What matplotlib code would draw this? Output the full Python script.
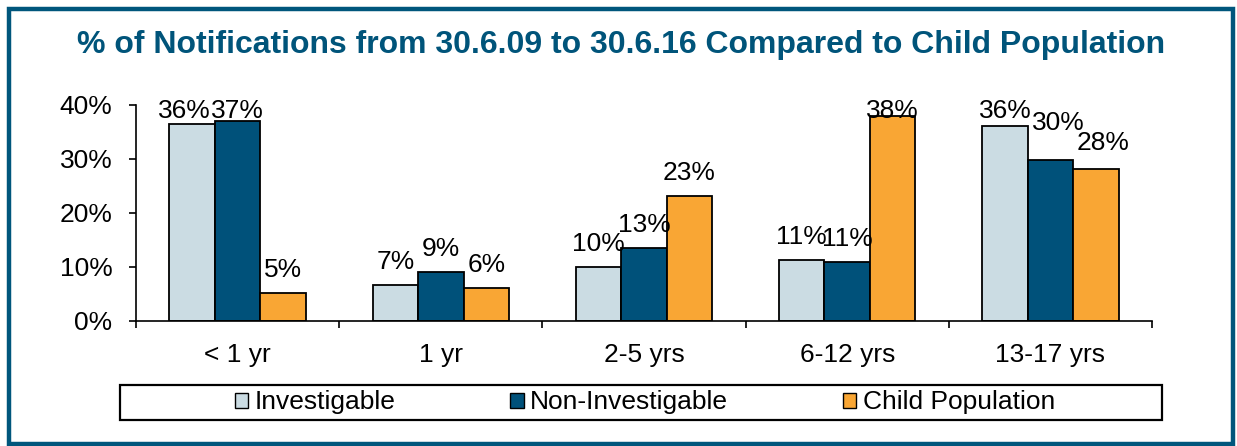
import matplotlib
matplotlib.use("Agg")
import matplotlib.pyplot as plt
from matplotlib.patches import Rectangle, Patch
import numpy as np

plt.rcParams['font.family'] = ['Liberation Sans', 'DejaVu Sans']

categories = ["< 1 yr", "1 yr", "2-5 yrs", "6-12 yrs", "13-17 yrs"]
series_names = ["Investigable", "Non-Investigable", "Child Population"]
investigable = [36.5, 6.7, 10.0, 11.3, 36.1]
non_investigable = [37.0, 9.1, 13.5, 11.0, 29.8]
child_population = [5.1, 6.1, 23.1, 38.0, 28.1]
value_labels = [
    ["36%", "7%", "10%", "11%", "36%"],
    ["37%", "9%", "13%", "11%", "30%"],
    ["5%", "6%", "23%", "38%", "28%"],
]
yticks = [0, 10, 20, 30, 40]
ytick_labels = ["0%", "10%", "20%", "30%", "40%"]

colors = ["#CBDCE3", "#00517A", "#F9A634"]
title_color = "#00547A"
frame_color = "#00567C"
FS = 19

W, H = 1237, 446
fig = plt.figure(figsize=(W / 100, H / 100), dpi=100)

# axes placement (pixel-derived)
ax_left, ax_right, ax_bottom, ax_top = 136, 1152, 321, 105
ax = fig.add_axes([ax_left / W, 1 - ax_bottom / H, (ax_right - ax_left) / W,
                   (ax_bottom - ax_top) / H])

series = [investigable, non_investigable, child_population]
x = np.arange(len(categories))
bw = 0.224
offsets = [-bw, 0, bw]
# label nudges (in data units) for crowded labels
y_nudge = {(1, 4): 2.6, (2, 4): 0.6}
x_nudge = {(0, 0): -0.04, (1, 4): 0.04, (2, 4): 0.035}
for i, (vals, name, col) in enumerate(zip(series, series_names, colors)):
    ax.bar(x + offsets[i], vals, width=bw, color=col, edgecolor="black",
           linewidth=1.3, label=name, zorder=2)
    for j, v in enumerate(vals):
        ty = min(v + 4.26, 38.9) + y_nudge.get((i, j), 0)
        tx = x[j] + offsets[i] + x_nudge.get((i, j), 0)
        ax.text(tx, ty, value_labels[i][j], ha="center", va="center",
                fontsize=FS, color="black", zorder=3)

ax.set_xlim(-0.5, len(categories) - 0.5)
ax.set_ylim(0, 40)
ax.set_yticks(yticks)
ax.set_yticklabels(ytick_labels, fontsize=FS)
ax.set_xticks(x)
ax.set_xticklabels(categories, fontsize=FS)
ax.set_xticks(np.arange(-0.5, len(categories), 1.0), minor=True)
ax.tick_params(axis="x", which="major", length=0, pad=16)
ax.tick_params(axis="x", which="minor", length=5, width=1.2, direction="out")
ax.tick_params(axis="y", which="major", length=5, width=1.2, direction="out", pad=12)
for s in ["top", "right"]:
    ax.spines[s].set_visible(False)
for s in ["left", "bottom"]:
    ax.spines[s].set_linewidth(1.2)
    ax.spines[s].set_color("black")

# title
fig.text(621 / W, 1 - 45 / H, "% of Notifications from 30.6.09 to 30.6.16 Compared to Child Population",
         ha="center", va="center", fontsize=23, fontweight="bold", color=title_color)

# legend box
lx0, lx1, ly0, ly1 = 120, 1162, 385, 420
fig.patches.append(Rectangle((lx0 / W, 1 - ly1 / H), (lx1 - lx0) / W, (ly1 - ly0) / H,
                             transform=fig.transFigure, fill=False, edgecolor="black",
                             linewidth=1.6))
handles = [Patch(facecolor=c, edgecolor="black", linewidth=1.0) for c in colors]
leg = fig.legend(handles, series_names, loc="center",
                 bbox_to_anchor=(645 / W, 1 - 402.5 / H), ncol=3, frameon=False,
                 fontsize=FS, handlelength=0.5, handleheight=0.5,
                 handletextpad=0.25, columnspacing=4.35, borderaxespad=0, borderpad=0)

# outer frame
fig.patches.append(Rectangle((9 / W, 2 / H), (1233 - 9) / W, (437 - 2) / H,
                             transform=fig.transFigure, fill=False, edgecolor=frame_color,
                             linewidth=3.2))

fig.savefig("out.png", dpi=100)
